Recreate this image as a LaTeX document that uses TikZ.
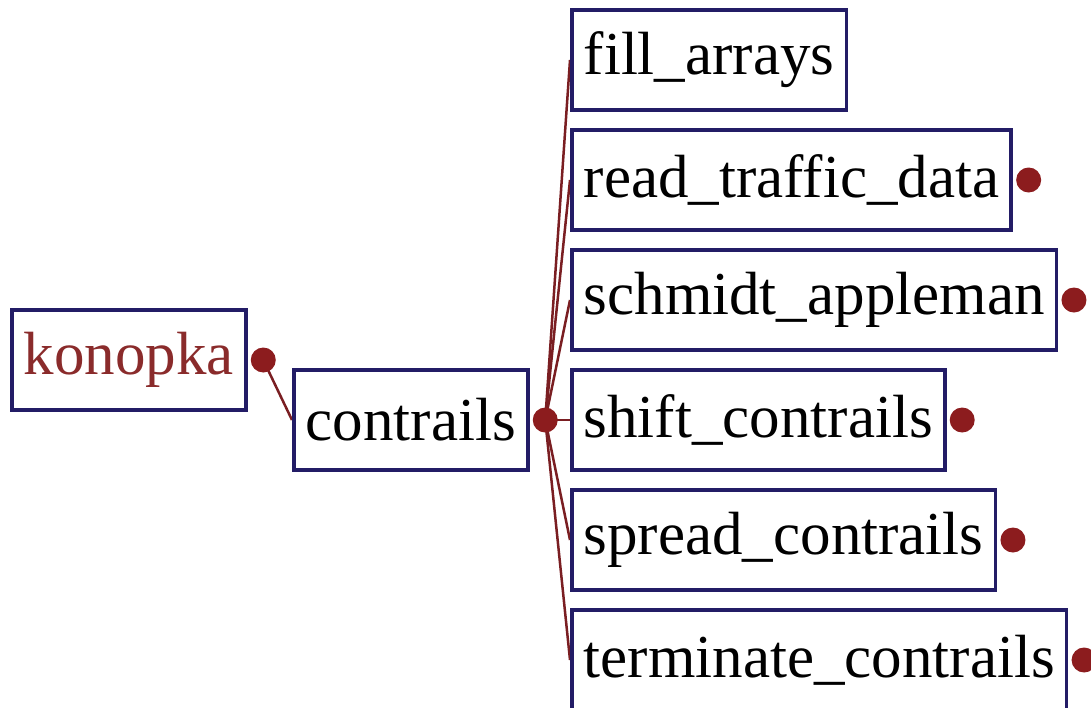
\documentclass[tikz,border=0pt]{standalone}
\usepackage{fontspec}
\setmainfont{Liberation Serif}
\usepackage{xcolor}
\definecolor{graphBorder}{HTML}{231C66}
\definecolor{graphRoot}{HTML}{8A2B2B}
\definecolor{graphEdge}{HTML}{7A1E22}
\definecolor{graphDot}{HTML}{8C1C1E}
\usetikzlibrary{positioning,backgrounds}
\tikzset{
    fnbox/.style={
        draw=graphBorder,
        fill=white,
        rectangle,
        line width=3.5pt,
        anchor=west,
        minimum height=100pt,
        inner xsep=12pt,
        text=black,
        font=\fontsize{61}{72}\selectfont
    },
    rootbox/.style={
        fnbox,
        text=graphRoot
    },
    dotmark/.style={
        circle,
        fill=graphDot,
        inner sep=0pt,
        minimum size=25pt
    },
    calledge/.style={
        draw=graphEdge,
        line width=2.5pt
    }
}

\begin{document}
\begin{tikzpicture}[x=1pt,y=-1pt]
    \useasboundingbox (0,0) rectangle (1091,707);
    % caller and routine
    \node[rootbox] (konopka) at (10,360) {konopka};
    \node[dotmark, right=3pt of konopka] (konopkadot) {};
    \node[fnbox] (contrails) at (292,420) {contrails};
    \node[dotmark, right=3pt of contrails] (contrailsdot) {};
    \begin{scope}[on background layer]
        \draw[calledge] (konopkadot.center) -- (contrails.west);
    \end{scope}
    % called routines
    \foreach \name/\i/\hasdot in {fill\_arrays/0/0, read\_traffic\_data/1/1,
        schmidt\_appleman/2/1, shift\_contrails/3/1,
        spread\_contrails/4/1, terminate\_contrails/5/1} {
        \node[fnbox] (callee\i) at (570,60+\i*120) {\name};
        \ifnum\hasdot=1
            \node[dotmark, right=3pt of callee\i] (calleedot\i) {};
        \fi
        \begin{scope}[on background layer]
            \draw[calledge] (contrailsdot.center) -- (callee\i.west);
        \end{scope}
    }
\end{tikzpicture}
\end{document}
